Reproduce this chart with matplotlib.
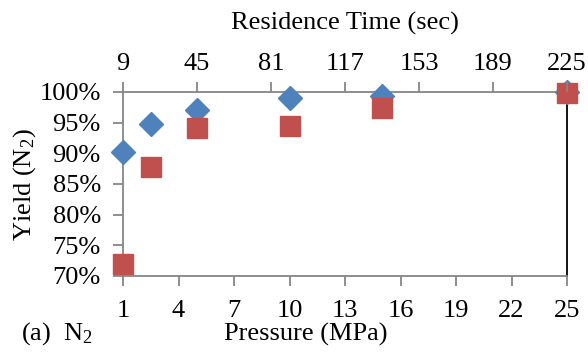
import matplotlib.pyplot as plt
from matplotlib.ticker import FuncFormatter

# Data
pressure = [1, 2.5, 5, 10, 15, 25]                      # MPa
yield_blue = [0.902, 0.948, 0.971, 0.990, 0.993, 1.000]
yield_red = [0.720, 0.878, 0.941, 0.945, 0.974, 0.998]

pressure_ticks = [1, 4, 7, 10, 13, 16, 19, 22, 25]
residence_ticks = [9, 45, 81, 117, 153, 189, 225]       # sec

BLUE = '#4F81BD'
RED = '#C0504D'
GRAY = '#868686'
FS = 19

plt.rcParams['font.family'] = ['Liberation Serif', 'DejaVu Serif']
plt.rcParams['font.size'] = FS
plt.rcParams['mathtext.fontset'] = 'custom'
plt.rcParams['mathtext.rm'] = 'Liberation Serif'
plt.rcParams['mathtext.it'] = 'Liberation Serif:italic'
plt.rcParams['mathtext.bf'] = 'Liberation Serif:bold'

fig = plt.figure(figsize=(5.88, 3.52), dpi=100)
W, H = 588, 352
ax = fig.add_axes([123 / W, 1 - 276 / H, (567 - 123) / W, (276 - 92) / H])

ax.plot(pressure, yield_blue, linestyle='none', marker='D', ms=12,
        color=BLUE, clip_on=False, zorder=3)
ax.plot(pressure, yield_red, linestyle='none', marker='s', ms=14.5,
        color=RED, clip_on=False, zorder=4)

ax.set_xlim(1, 25)
ax.set_ylim(0.70, 1.00)
ax.set_xticks(pressure_ticks)
ax.set_yticks([0.70, 0.75, 0.80, 0.85, 0.90, 0.95, 1.00])
ax.yaxis.set_major_formatter(FuncFormatter(lambda v, _: f"{round(v * 100)}%"))

for side in ['left', 'bottom', 'top']:
    ax.spines[side].set_color(GRAY)
    ax.spines[side].set_linewidth(1.3)
ax.spines['right'].set_color('black')
ax.spines['right'].set_linewidth(1.3)
ax.tick_params(axis='both', direction='out', length=7, width=1.3,
               color=GRAY, labelsize=FS)
ax.tick_params(axis='x', pad=10)
ax.tick_params(axis='y', pad=9)

# Top axis: residence time
top = ax.twiny()
top.set_xlim(9, 225)
top.set_xticks(residence_ticks)
top.tick_params(axis='x', direction='out', length=7, width=1.3,
                color=GRAY, labelsize=FS, pad=5)
for side in ['left', 'bottom', 'top', 'right']:
    top.spines[side].set_visible(False)

fig.text(345 / W, 1 - 23 / H, 'Residence Time (sec)', ha='center', va='center', fontsize=FS)
fig.text(306 / W, 1 - 334 / H, 'Pressure (MPa)', ha='center', va='center', fontsize=FS)
fig.text(21 / W, 1 - 334 / H, r'(a)  N$_\mathrm{2}$', ha='left', va='center', fontsize=FS)
fig.text(25 / W, 1 - 185 / H, r'Yield (N$_\mathrm{2}$)', ha='center', va='center',
         rotation=90, fontsize=FS)

fig.savefig('out.png', dpi=100)
